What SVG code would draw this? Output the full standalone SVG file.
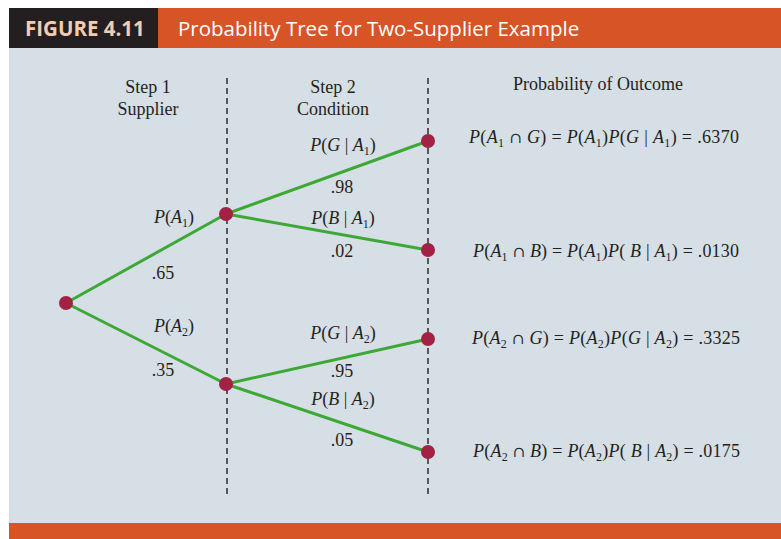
<svg xmlns="http://www.w3.org/2000/svg" width="781" height="539" viewBox="0 0 781 539">
<style>
.t{font-family:"Liberation Serif","Times New Roman",serif;font-size:18px;fill:#231f20}
.c{text-anchor:middle}
.i{font-style:italic}
.s{font-size:12px}
.cap{font-family:"DejaVu Serif",serif;font-size:15px}
.br{stroke:#3ea836;stroke-width:3;fill:none}
.dash{stroke:#231f20;stroke-width:1.4;stroke-dasharray:6 4;fill:none}
.nd{fill:#a32143}
.hd{font-family:"Open Sans","Noto Sans",sans-serif;font-size:20.5px}
</style>
<rect x="0" y="0" width="781" height="539" fill="#ffffff"/>
<rect x="9" y="48" width="772" height="475" fill="#d6dfe6"/>
<rect x="9" y="523" width="772" height="16" fill="#d75427"/>
<rect x="158" y="8" width="623" height="40" fill="#d75427"/>
<rect x="9" y="8" width="149" height="40" fill="#231f20"/>
<text class="hd" x="25" y="36" style="font-weight:bold;fill:#f3cdb2">FIGURE 4.11</text>
<text class="hd" x="178" y="36" style="fill:#ffffff">Probability Tree for Two-Supplier Example</text>

<g id="headers">
<text class="t c" x="148" y="93">Step 1</text>
<text class="t c" x="148" y="115">Supplier</text>
<text class="t c" x="333" y="93">Step 2</text>
<text class="t c" x="333" y="115">Condition</text>
<text class="t c" x="598" y="90">Probability of Outcome</text>
</g>

<g id="guides">
<line class="dash" x1="227" y1="78" x2="227" y2="496"/>
<line class="dash" x1="428" y1="78" x2="428" y2="496"/>
</g>

<g id="connectors">
<line class="br" x1="66" y1="303" x2="226" y2="214"/>
<line class="br" x1="66" y1="303" x2="226" y2="384"/>
<line class="br" x1="226" y1="214" x2="428" y2="141"/>
<line class="br" x1="226" y1="214" x2="428" y2="250"/>
<line class="br" x1="226" y1="384" x2="428" y2="339"/>
<line class="br" x1="226" y1="384" x2="428" y2="452"/>
</g>

<g id="branch-labels">
<text class="t c" x="174" y="223"><tspan class="i">P</tspan>(<tspan class="i">A</tspan><tspan class="s" dy="4">1</tspan><tspan dy="-4">)</tspan></text>
<text class="t c" x="163" y="279">.65</text>
<text class="t c" x="174" y="332"><tspan class="i">P</tspan>(<tspan class="i">A</tspan><tspan class="s" dy="4">2</tspan><tspan dy="-4">)</tspan></text>
<text class="t c" x="163" y="376">.35</text>
<text class="t c" x="343" y="151"><tspan class="i">P</tspan>(<tspan class="i">G</tspan> | <tspan class="i">A</tspan><tspan class="s" dy="4">1</tspan><tspan dy="-4">)</tspan></text>
<text class="t c" x="342" y="193">.98</text>
<text class="t c" x="343" y="224"><tspan class="i">P</tspan>(<tspan class="i">B</tspan> | <tspan class="i">A</tspan><tspan class="s" dy="4">1</tspan><tspan dy="-4">)</tspan></text>
<text class="t c" x="342" y="257">.02</text>
<text class="t c" x="343" y="339"><tspan class="i">P</tspan>(<tspan class="i">G</tspan> | <tspan class="i">A</tspan><tspan class="s" dy="4">2</tspan><tspan dy="-4">)</tspan></text>
<text class="t c" x="342" y="377">.95</text>
<text class="t c" x="343" y="405"><tspan class="i">P</tspan>(<tspan class="i">B</tspan> | <tspan class="i">A</tspan><tspan class="s" dy="4">2</tspan><tspan dy="-4">)</tspan></text>
<text class="t c" x="342" y="446">.05</text>
</g>

<g id="root"><circle class="nd" cx="66" cy="303" r="7"/></g>
<g id="A1"><circle class="nd" cx="226" cy="214" r="7"/></g>
<g id="A2"><circle class="nd" cx="226" cy="384" r="7"/></g>
<g id="A1G"><circle class="nd" cx="428" cy="141" r="7"/>
<text class="t" x="469" y="143" textLength="270"><tspan class="i">P</tspan>(<tspan class="i">A</tspan><tspan class="s" dy="4">1</tspan><tspan dy="-4"> </tspan><tspan class="cap">∩</tspan> <tspan class="i">G</tspan>) = <tspan class="i">P</tspan>(<tspan class="i">A</tspan><tspan class="s" dy="4">1</tspan><tspan dy="-4">)</tspan><tspan class="i">P</tspan>(<tspan class="i">G</tspan> | <tspan class="i">A</tspan><tspan class="s" dy="4">1</tspan><tspan dy="-4">) = .6370</tspan></text></g>
<g id="A1B"><circle class="nd" cx="428" cy="250" r="7"/>
<text class="t" x="473" y="257" textLength="266"><tspan class="i">P</tspan>(<tspan class="i">A</tspan><tspan class="s" dy="4">1</tspan><tspan dy="-4"> </tspan><tspan class="cap">∩</tspan> <tspan class="i">B</tspan>) = <tspan class="i">P</tspan>(<tspan class="i">A</tspan><tspan class="s" dy="4">1</tspan><tspan dy="-4">)</tspan><tspan class="i">P</tspan>( <tspan class="i">B</tspan> | <tspan class="i">A</tspan><tspan class="s" dy="4">1</tspan><tspan dy="-4">) = .0130</tspan></text></g>
<g id="A2G"><circle class="nd" cx="428" cy="339" r="7"/>
<text class="t" x="472" y="344" textLength="268"><tspan class="i">P</tspan>(<tspan class="i">A</tspan><tspan class="s" dy="4">2</tspan><tspan dy="-4"> </tspan><tspan class="cap">∩</tspan> <tspan class="i">G</tspan>) = <tspan class="i">P</tspan>(<tspan class="i">A</tspan><tspan class="s" dy="4">2</tspan><tspan dy="-4">)</tspan><tspan class="i">P</tspan>(<tspan class="i">G</tspan> | <tspan class="i">A</tspan><tspan class="s" dy="4">2</tspan><tspan dy="-4">) = .3325</tspan></text></g>
<g id="A2B"><circle class="nd" cx="428" cy="452" r="7"/>
<text class="t" x="473" y="457" textLength="267"><tspan class="i">P</tspan>(<tspan class="i">A</tspan><tspan class="s" dy="4">2</tspan><tspan dy="-4"> </tspan><tspan class="cap">∩</tspan> <tspan class="i">B</tspan>) = <tspan class="i">P</tspan>(<tspan class="i">A</tspan><tspan class="s" dy="4">2</tspan><tspan dy="-4">)</tspan><tspan class="i">P</tspan>( <tspan class="i">B</tspan> | <tspan class="i">A</tspan><tspan class="s" dy="4">2</tspan><tspan dy="-4">) = .0175</tspan></text></g>
</svg>
